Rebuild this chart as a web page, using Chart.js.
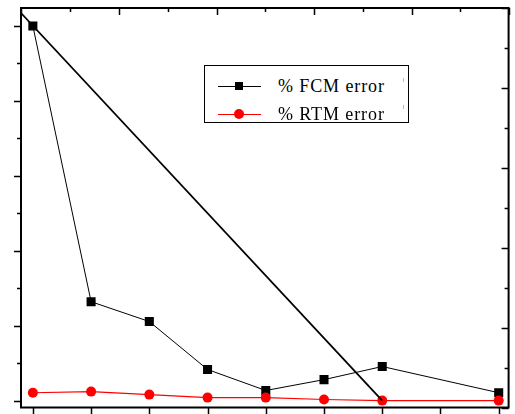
<!DOCTYPE html>
<html>
<head>
<meta charset="utf-8">
<script src="https://cdn.jsdelivr.net/npm/chart.js@4/dist/chart.umd.min.js"></script>
<style>
  html, body { margin: 0; padding: 0; background: #fff; }
  #wrap { position: relative; width: 515px; height: 414px; overflow: hidden; }
  canvas { position: absolute; left: 0; top: 0; }
  #legend { position: absolute; left: 204px; top: 65px; width: 205px; height: 58px; border: 1px solid #000; background: #fff; box-sizing: border-box; }
  .row { position: absolute; left: 0; height: 20px; width: 100%; }
  .ln { position: absolute; left: 13px; width: 43px; height: 1px; top: 10px; }
  .mk { position: absolute; }
  .tx { position: absolute; left: 73px; top: 0; font-family: "Liberation Serif", "Times New Roman", serif; font-size: 18px; letter-spacing: 0.9px; line-height: 20px; color: #000; white-space: nowrap; }
  .tick { position: absolute; width: 1px; height: 4px; background: #bbb; }
</style>
</head>
<body>
<div id="wrap">
  <canvas id="c" width="515" height="414"></canvas>
  <div id="legend"></div>
  <div class="tick" style="left:403px; top:78px;"></div>
  <div class="tick" style="left:403px; top:105px;"></div>
</div>
<script>
// ---- data ----
const categories = [0, 1, 2, 3, 4, 5, 6, 7, 8];
const fcmError   = [100, 26.4, 21.1, 8.3, 2.7, 5.6, 9.1, null, 2.1];
const rtmError   = [2.1, 2.4, 1.6, 0.8, 0.8, 0.3, 0.0, null, 0.0];
const trendX     = [-0.2, 6];
const trendY     = [103.4, 0];
const seriesNames = ['% FCM error', '% RTM error'];

const leftTicks   = [0, 10, 20, 30, 40, 50, 60, 70, 80, 90, 100];
const rightTicks  = [0, 10, 20, 30, 40, 50, 60, 70, 80, 90, 100];
const topTicks    = [0, 1, 2, 3, 4, 5, 6, 7, 8, 9, 10];

const toXY = (xs, ys) => xs.map((x, i) => ({ x: x, y: ys[i] }));

const framePlugin = {
  id: 'frame',
  afterDraw(chart) {
    const ctx = chart.ctx;
    const a = chart.chartArea;
    const sx = chart.scales.x, sy = chart.scales.y, sy2 = chart.scales.y2, sx2 = chart.scales.x2;
    ctx.save();
    ctx.strokeStyle = '#000';
    ctx.lineWidth = 2;
    ctx.beginPath();
    ctx.moveTo(a.left, a.top); ctx.lineTo(a.right, a.top);
    ctx.moveTo(a.left, a.bottom); ctx.lineTo(a.right, a.bottom);
    ctx.moveTo(a.left, a.top - 1); ctx.lineTo(a.left, a.bottom + 1);
    ctx.moveTo(a.right, a.top - 1); ctx.lineTo(a.right, a.bottom + 1);
    ctx.stroke();
    ctx.lineWidth = 1.5;
    ctx.beginPath();
    // left ticks, outward
    leftTicks.forEach((v, i) => {
      const y = Math.round(sy.getPixelForValue(v)) + 0.5;
      const len = (i % 2 === 0) ? 7 : 4;
      ctx.moveTo(a.left, y); ctx.lineTo(a.left - len, y);
    });
    // right ticks, inward
    rightTicks.forEach((v, i) => {
      const y = Math.round(sy2.getPixelForValue(v)) + 0.5;
      const len = (i % 2 === 0) ? 7 : 4;
      ctx.moveTo(a.right, y); ctx.lineTo(a.right - len, y);
    });
    // bottom ticks, outward
    categories.forEach((v) => {
      const x = Math.round(sx.getPixelForValue(v)) + 0.5;
      ctx.moveTo(x, a.bottom); ctx.lineTo(x, a.bottom + 7);
    });
    // top ticks, inward
    topTicks.forEach((v, i) => {
      const x = Math.round(sx2.getPixelForValue(v)) + 0.5;
      const len = (i % 2 === 0) ? 7 : 4;
      ctx.moveTo(x, a.top); ctx.lineTo(x, a.top + len);
    });
    ctx.stroke();
    ctx.restore();
  }
};

const chart = new Chart(document.getElementById('c'), {
  type: 'line',
  data: {
    datasets: [
      {
        label: 'trend',
        data: toXY(trendX, trendY),
        borderColor: '#000',
        borderWidth: 1.8,
        pointRadius: 0,
        order: 0
      },
      {
        label: seriesNames[1],
        data: toXY(categories, rtmError),
        borderColor: '#ff0000',
        backgroundColor: '#ff0000',
        borderWidth: 1.2,
        pointStyle: 'circle',
        pointRadius: 5,
        pointBorderWidth: 0,
        spanGaps: true,
        order: 1
      },
      {
        label: seriesNames[0],
        data: toXY(categories, fcmError),
        borderColor: '#000',
        backgroundColor: '#000',
        borderWidth: 1,
        pointStyle: 'rect',
        pointRadius: 6.4,
        pointBorderWidth: 0,
        spanGaps: true,
        order: 2
      }
    ]
  },
  options: {
    responsive: false,
    animation: false,
    devicePixelRatio: 1,
    layout: { padding: { left: 21, right: 1, top: 8, bottom: 6 } },
    plugins: { legend: { display: false }, tooltip: { enabled: false } },
    scales: {
      x:  { type: 'linear', display: false, min: -0.2038, max: 8.170 },
      x2: { type: 'linear', display: false, min: -0.01, max: 9.99, position: 'top' },
      y:  { type: 'linear', display: false, min: -1.867, max: 104.8 },
      y2: { type: 'linear', display: false, min: 0, max: 100, position: 'right' }
    }
  },
  plugins: [framePlugin]
});

// HTML legend built from the dataset styles
const legend = document.getElementById('legend');
[{ name: seriesNames[0], color: '#000', shape: 'rect', top: 10 },
 { name: seriesNames[1], color: '#ff0000', shape: 'circle', top: 38 }].forEach(e => {
  const row = document.createElement('div');
  row.className = 'row';
  row.style.top = e.top + 'px';
  const ln = document.createElement('div');
  ln.className = 'ln'; ln.style.background = e.color;
  const mk = document.createElement('div');
  mk.className = 'mk';
  if (e.shape === 'rect') {
    mk.style.cssText = 'left:30px;top:6px;width:8px;height:8px;background:' + e.color;
  } else {
    mk.style.cssText = 'left:29px;top:5px;width:10px;height:10px;border-radius:50%;background:' + e.color;
  }
  const tx = document.createElement('div');
  tx.className = 'tx'; tx.textContent = e.name;
  row.appendChild(ln); row.appendChild(mk); row.appendChild(tx);
  legend.appendChild(row);
});
</script>
</body>
</html>
